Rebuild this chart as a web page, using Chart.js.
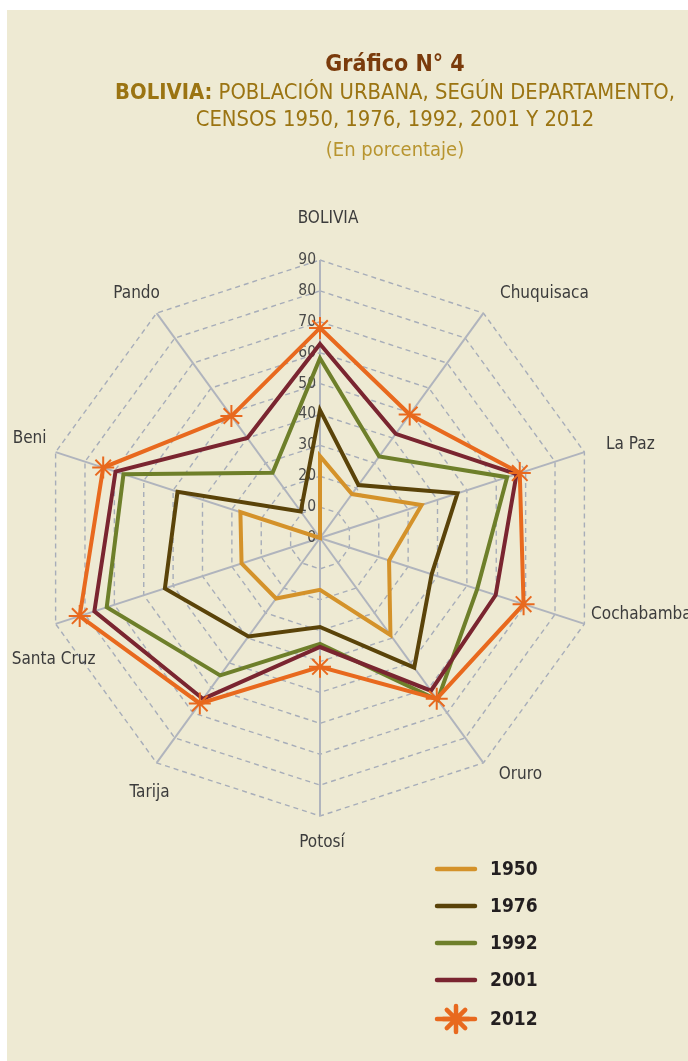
<!DOCTYPE html>
<html>
<head>
<meta charset="utf-8">
<script src="https://cdn.jsdelivr.net/npm/chart.js@4.4.0/dist/chart.umd.min.js"></script>
<style>
  html, body { margin: 0; padding: 0; background: #fff; }
  #panel {
    position: absolute; left: 7px; top: 10px; width: 681px; height: 1051px;
    background: #eeead3;
  }
  #myChart { position: absolute; left: 0; top: 0; }
  .ttl {
    position: absolute; left: 100px; width: 590px; text-align: center;
    font-family: "Liberation Sans Narrow", "DejaVu Sans Condensed", sans-serif;
    white-space: nowrap;
  }
</style>
</head>
<body>
<div id="panel"></div>
<canvas id="myChart" width="688" height="1061"></canvas>
<div class="ttl" style="top:50px;font-size:23px;font-weight:bold;color:#7a3b0c;">Gráfico N° 4</div>
<div class="ttl" style="top:79px;font-size:21.8px;color:#9b7412;"><b>BOLIVIA:</b> POBLACIÓN URBANA, SEGÚN DEPARTAMENTO,</div>
<div class="ttl" style="top:106px;font-size:21.8px;color:#9b7412;">CENSOS 1950, 1976, 1992, 2001 Y 2012</div>
<div class="ttl" style="top:137px;font-size:20px;color:#b89530;">(En porcentaje)</div>
<script>
var departamentos = ['BOLIVIA', 'Chuquisaca', 'La Paz', 'Cochabamba', 'Oruro', 'Potosí', 'Tarija', 'Santa Cruz', 'Beni', 'Pando'];

var censo1950 = [26.5, 17.6, 34.6, 23.5, 38.8, 16.8, 24.2, 26.7, 27.1, 0];
var censo1976 = [41.4, 21.2, 46.8, 38.0, 51.9, 28.8, 39.4, 52.8, 48.5, 10.6];
var censo1992 = [58.2, 32.6, 63.7, 53.5, 64.8, 34.3, 55.0, 72.6, 66.9, 26.1];
var censo2001 = [62.8, 41.7, 66.9, 59.8, 61.1, 35.3, 64.4, 76.8, 69.6, 40.0];
var censo2012 = [68.0, 49.4, 68.0, 69.3, 64.3, 41.7, 66.2, 81.8, 73.8, 48.8];

var tickMin = 0;
var tickMax = 90;
var tickStep = 10;

var fontNarrow = '"Liberation Sans Narrow", "DejaVu Sans Condensed", sans-serif';

// label offsets from end of each axis (Excel put them a bit irregular)
var labelOffsets = [[8, -41], [61, -20], [46, -8], [57, -9], [37, 12], [2, 27], [-7, 30], [-2, 36], [-26, -14], [-20, -20]];

// tick labels drawn left of the vertical axis
const tickLabels = {
    id: 'tickLabels',
    beforeDatasetsDraw(chart) {
        const scale = chart.scales.r;
        const ctx = chart.ctx;
        ctx.save();
        ctx.font = '15.5px ' + fontNarrow;
        ctx.fillStyle = '#4a4a4a';
        ctx.textAlign = 'right';
        ctx.textBaseline = 'middle';
        scale.ticks.forEach(function (t) {
            var d = scale.getDistanceFromCenterForValue(t.value);
            ctx.fillText(String(t.value), scale.xCenter - 4, scale.yCenter - d);
        });
        ctx.restore();
    },
    afterDraw(chart) {
        const scale = chart.scales.r;
        const ctx = chart.ctx;
        ctx.save();
        ctx.font = '17px ' + fontNarrow;
        ctx.fillStyle = '#3c3c3c';
        ctx.textAlign = 'center';
        ctx.textBaseline = 'middle';
        departamentos.forEach(function (lbl, i) {
            var p = scale.getPointPosition(i, scale.drawingArea);
            ctx.fillText(lbl, p.x + labelOffsets[i][0], p.y + labelOffsets[i][1]);
        });

        // legend, bottom right
        ctx.font = 'bold 19px ' + fontNarrow;
        ctx.fillStyle = '#231f20';
        ctx.textAlign = 'left';
        var rows = [869, 906, 943, 980, 1019];
        var ds = chart.data.datasets;
        for (var k = 0; k < ds.length; k++) {
            var y = rows[k];
            ctx.strokeStyle = ds[k].borderColor;
            ctx.lineWidth = 4.5;
            ctx.lineCap = 'round';
            ctx.beginPath();
            ctx.moveTo(437, y);
            ctx.lineTo(475, y);
            ctx.stroke();
            if (ds[k].pointRadius > 0) {
                Chart.helpers.drawPoint(ctx, {
                    pointStyle: 'star',
                    radius: 13,
                    borderWidth: 2,
                    rotation: 0
                }, 456, y);
            }
            ctx.fillText(ds[k].label, 490, y + 1);
        }
        ctx.restore();
    }
};

const ctx = document.getElementById('myChart');

new Chart(ctx, {
    type: 'radar',
    data: {
        labels: departamentos,
        datasets: [{
                label: '1950',
                data: censo1950,
                borderColor: '#d4922a',
                borderWidth: 4,
                pointRadius: 0,
                fill: false,
                order: 5
            },
            {
                label: '1976',
                data: censo1976,
                borderColor: '#5a4309',
                borderWidth: 4,
                pointRadius: 0,
                fill: false,
                order: 4
            },
            {
                label: '1992',
                data: censo1992,
                borderColor: '#6e7f2a',
                borderWidth: 4,
                pointRadius: 0,
                fill: false,
                order: 3
            },
            {
                label: '2001',
                data: censo2001,
                borderColor: '#7a2530',
                borderWidth: 4,
                pointRadius: 0,
                fill: false,
                order: 2
            },
            {
                label: '2012',
                data: censo2012,
                borderColor: '#e8691e',
                backgroundColor: '#e8691e',
                borderWidth: 4,
                pointStyle: 'star',
                pointRadius: 11,
                pointBorderWidth: 2,
                pointBorderColor: '#e8691e',
                fill: false,
                order: 1
            }]
    },
    options: {
        responsive: false,
        animation: false,
        layout: {
            padding: {left: 42, top: 260, right: 90, bottom: 245}
        },
        plugins: {
            legend: {display: false},
            tooltip: {enabled: false}
        },
        elements: {
            line: {tension: 0}
        },
        scales: {
            r: {
                min: tickMin,
                max: tickMax,
                ticks: {
                    stepSize: tickStep,
                    display: false
                },
                pointLabels: {display: false},
                grid: {
                    circular: false,
                    color: '#a7adb9',
                    lineWidth: 1.4
                },
                border: {dash: [5, 4]},
                angleLines: {
                    color: '#b0b4bd',
                    lineWidth: 2
                }
            }
        }
    },
    plugins: [tickLabels]
});
</script>
</body>
</html>
